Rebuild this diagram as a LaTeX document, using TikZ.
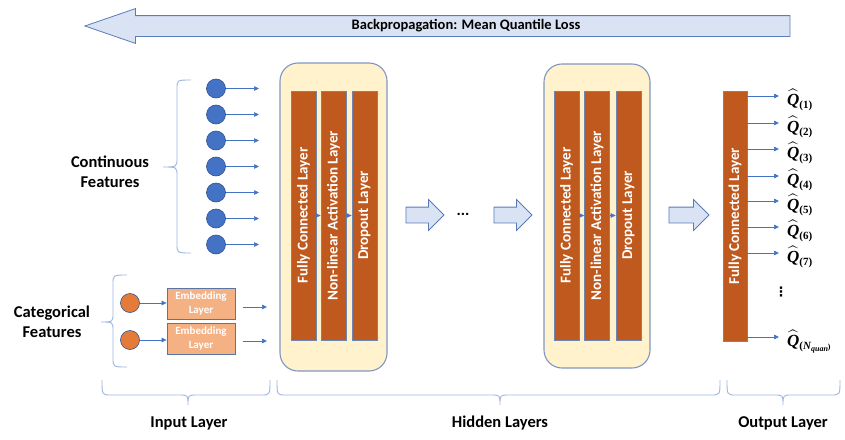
\documentclass[tikz,border=0pt]{standalone}
\usepackage{amsmath}
\usepackage[no-math]{fontspec}
\setmainfont{Carlito}
\newfontfamily\qfont{Liberation Serif}
\newfontfamily\symfont{DejaVu Sans}
\usetikzlibrary{arrows.meta,shapes.arrows}

\definecolor{lineblue}{HTML}{4472C4}
\definecolor{edgeblue}{HTML}{2F528F}
\definecolor{bracecol}{HTML}{9DB5E0}
\definecolor{cream}{HTML}{FFF2CC}
\definecolor{boxedge}{HTML}{7F96C4}
\definecolor{rust}{HTML}{C0591D}
\definecolor{peach}{HTML}{F4B183}
\definecolor{orangedot}{HTML}{E47B39}
\definecolor{arrowfill}{HTML}{DAE3F3}
\definecolor{arrowedge}{HTML}{5B7BB8}

% quantile estimate label: hatted bold Q with a bold subscript
\newcommand{\qhat}[1]{$\widehat{\hbox{\qfont\bfseries\itshape Q}}_{\hbox{\qfont\bfseries\fontsize{11}{12}\selectfont #1}}$}

% vertical brace: line x, tip x, end x, top y, bottom y, tip y
\newcommand{\sidebrace}[6]{%
  \draw[bracestyle] (#3,#4) .. controls (#1,#4) .. (#1,#4+9) -- (#1,#6-9)
    .. controls (#1,#6) .. (#2,#6) .. controls (#1,#6) .. (#1,#6+9)
    -- (#1,#5-9) .. controls (#1,#5) .. (#3,#5);}
% horizontal brace: left x, right x, tip x, end y, line y, tip y
\newcommand{\basebrace}[6]{%
  \draw[bracestyle] (#1,#4) .. controls (#1,#5) .. (#1+9,#5) -- (#3-9,#5)
    .. controls (#3,#5) .. (#3,#6) .. controls (#3,#5) .. (#3+9,#5)
    -- (#2-9,#5) .. controls (#2,#5) .. (#2,#4);}

\tikzset{
  bracestyle/.style={draw=bracecol, line width=0.9pt},
  conn/.style={draw=lineblue, line width=0.7pt, -{Triangle[length=5pt,width=4.5pt]}},
  bluedot/.style={circle, fill=lineblue, draw=edgeblue, line width=0.6pt, minimum size=19pt, inner sep=0pt},
  orangedot/.style={circle, fill=orangedot, draw=edgeblue, line width=0.6pt, minimum size=19pt, inner sep=0pt},
  embbox/.style={rectangle, fill=peach, draw=edgeblue!80, line width=0.8pt, minimum width=68pt, minimum height=31pt,
    inner sep=0pt, align=center, text=white, font=\bfseries\fontsize{11}{13.5}\selectfont},
  hidbox/.style={rectangle, rounded corners=18pt, fill=cream, draw=boxedge, line width=1.1pt},
  bar/.style={rectangle, rotate=90, fill=rust, draw=edgeblue!70, line width=0.7pt, minimum width=249pt,
    minimum height=25pt, inner sep=0pt, text=white, font=\bfseries\fontsize{15}{18}\selectfont},
  blockarrow/.style={single arrow, fill=arrowfill, draw=arrowedge, line width=0.8pt, inner xsep=0pt,
    inner ysep=7.5pt, minimum height=38pt, single arrow head extend=7.5pt},
  label/.style={font=\bfseries\fontsize{16.5}{20}\selectfont, align=center},
  qlabel/.style={anchor=base west, inner sep=0pt, font=\fontsize{17}{18}\selectfont},
}

\begin{document}
\begin{tikzpicture}[x=1pt,y=-1pt]
\useasboundingbox (0,0) rectangle (845,439);

% backpropagation arrow across the top
\node[single arrow, shape border rotate=180, fill=arrowfill, draw=arrowedge, line width=0.8pt, inner xsep=0pt,
  inner ysep=10pt, minimum height=705pt, single arrow head extend=7pt, single arrow tip angle=38]
  (backprop) at (452.5,26) {};
\node[font=\bfseries\fontsize{14.5}{17}\selectfont] (backtext) at (466,26) {Backpropagation: Mean Quantile Loss};

% input layer: continuous features
\foreach \i in {1,...,7} {
  \node[bluedot] (c\i) at (216,{62.5+26*\i}) {};
  \coordinate (ct\i) at (259,{62.5+26*\i});
  \draw[conn] (c\i) -- (ct\i);
}
\sidebrace{177}{163}{191}{80}{253}{167}
\node[label] (contlabel) at (110,172) {Continuous\\Features};

% input layer: categorical features
\node[orangedot] (o1) at (130,303) {};
\node[orangedot] (o2) at (130,340) {};
\node[embbox] (emb1) at (201,303.5) {Embedding\\Layer};
\node[embbox] (emb2) at (201,338.5) {Embedding\\Layer};
\draw[conn] (o1) -- (emb1.west |- o1);
\draw[conn] (o2) -- (emb2.west |- o2);
\coordinate (es1) at (243,307);
\coordinate (et1) at (267,307);
\coordinate (es2) at (243,341);
\coordinate (et2) at (267,341);
\draw[conn] (es1) -- (et1);
\draw[conn] (es2) -- (et2);
\sidebrace{113}{101}{127}{275}{367}{322}
\node[label] (catlabel) at (52,322) {Categorical\\Features};

% first hidden block
\node[hidbox, minimum width=107pt, minimum height=308pt] (hb1) at (333.5,217) {};
\node[bar] (a1) at (303.5,215.5) {Fully Connected Layer};
\node[bar] (a2) at (333.5,215.5) {Non-linear Activation Layer};
\node[bar] (a3) at (364.5,215.5) {Dropout Layer};
\draw[conn] (a1.south) -- (a2.north);
\draw[conn] (a2.south) -- (a3.north);

% arrows and ellipsis between hidden blocks
\node[blockarrow] (ba1) at (421,215) {};
\node[font=\bfseries\fontsize{16}{18}\selectfont, inner sep=0pt] (dots) at (463,214) {...};
\node[blockarrow] (ba2) at (509,215) {};

% last hidden block
\node[hidbox, minimum width=106pt, minimum height=304pt] (hb2) at (597,216) {};
\node[bar] (b1) at (566.5,215.5) {Fully Connected Layer};
\node[bar] (b2) at (597,215.5) {Non-linear Activation Layer};
\node[bar] (b3) at (628.5,215.5) {Dropout Layer};
\draw[conn] (b1.south) -- (b2.north);
\draw[conn] (b2.south) -- (b3.north);

\node[blockarrow, minimum height=40pt] (ba3) at (685,215) {};

% output layer
\node[bar, minimum width=250pt, minimum height=24pt] (out) at (735,216) {Fully Connected Layer};
\foreach \y/\s in {96/1,123/2,149/3,176/4,201/5,227/6,253/7} {
  \coordinate (qt\s) at (779,\y);
  \draw[conn] (out.south |- qt\s) -- (qt\s);
  \node[qlabel] (q\s) at (787,\y+9) {\qhat{(\s)}};
}
\coordinate (qtN) at (779,337);
\draw[conn] (out.south |- qtN) -- (qtN);
\node[qlabel] (qN) at (787,346) {\qhat{(\itshape N\fontsize{8}{9}\selectfont\raisebox{-2pt}{quan}\upshape)}};
\node[font=\symfont\bfseries\fontsize{13}{14}\selectfont, inner sep=0pt] (vdots) at (781,292) {⋮};

% layer braces along the bottom
\basebrace{102}{270}{188}{380}{395}{405}
\basebrace{277}{720}{500}{380}{395}{405}
\basebrace{727}{840}{783}{380}{395}{405}
\node[label] (inlabel) at (189,423) {Input Layer};
\node[label] (hidlabel) at (500,423) {Hidden Layers};
\node[label] (outlabel) at (783,423) {Output Layer};
\end{tikzpicture}
\end{document}
